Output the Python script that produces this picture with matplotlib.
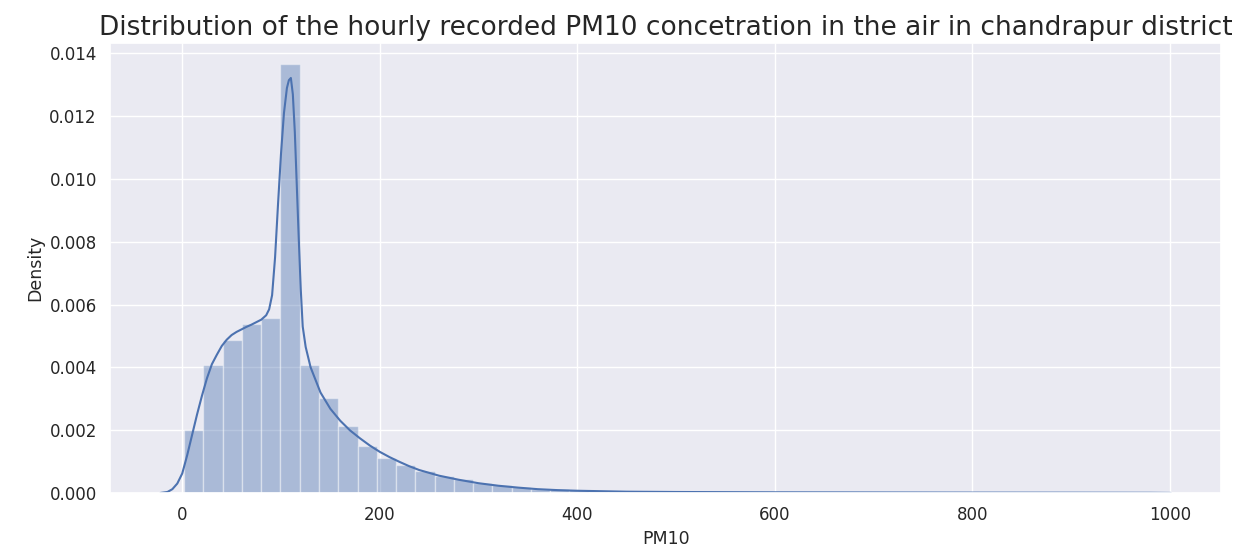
import numpy as np
import matplotlib
matplotlib.use("Agg")
import matplotlib.pyplot as plt
import seaborn as sns

# histogram (density per bin)
bin_start = 2.0
bin_width = 19.5
bar_density = [
    0.00200, 0.00407, 0.00486, 0.00537, 0.00556, 0.01365, 0.00406, 0.00303,
    0.00213, 0.00151, 0.00110, 0.00089, 0.00071, 0.00054, 0.00043, 0.00033,
    0.00025, 0.00019, 0.00014, 0.00011, 0.00008, 0.00007, 0.00006, 0.00005,
    0.00004, 0.00004, 0.00003, 0.00003, 0.00003, 0.00002, 0.00002, 0.00002,
    0.00002, 0.00002, 0.00002, 0.00002, 0.00002, 0.00002, 0.00002, 0.00002,
    0.00001, 0.00001, 0.00001, 0.00001, 0.00001, 0.00001, 0.00001, 0.00001,
    0.00001, 0.00001,
]

# kde curve
kde_x = [-22, -15, -10, -5, 0, 5, 10, 15, 20, 25, 30, 35, 40, 45, 50, 55, 60,
         65, 70, 75, 80, 85, 88, 91, 94, 97, 100, 103, 106, 108, 110, 112, 114,
         116, 118, 120, 122, 125, 130, 135, 140, 150, 160, 170, 180, 190, 200,
         210, 220, 230, 240, 260, 280, 300, 320, 340, 360, 380, 400, 450, 500,
         600, 700, 800, 900, 980, 1001]
kde_y = [0.0, 0.00003, 0.00012, 0.0003, 0.00062, 0.0012, 0.00185, 0.0025,
         0.0031, 0.00365, 0.0041, 0.0044, 0.00468, 0.00488, 0.00503, 0.00513,
         0.00521, 0.00529, 0.00536, 0.00544, 0.00552, 0.00566, 0.00585, 0.0063,
         0.0075, 0.0092, 0.0108, 0.0121, 0.0129, 0.01315, 0.01322, 0.0127,
         0.0115, 0.0098, 0.0081, 0.0065, 0.0053, 0.00465, 0.0040, 0.0036,
         0.0032, 0.00268, 0.0023, 0.00199, 0.00174, 0.00151, 0.00131, 0.00114,
         0.00099, 0.00085, 0.00073, 0.00055, 0.00042, 0.00031, 0.00023,
         0.00017, 0.00012, 0.00009, 0.00007, 0.00004, 0.00003, 0.00002,
         0.000015, 0.00001, 0.000008, 0.000005, 0.0]

sns.set_theme(style="darkgrid")
plt.rcParams['font.family'] = ['DejaVu Sans']

fig = plt.figure(figsize=(12.5, 5.52), dpi=100)
ax = fig.add_axes([0.088, 0.107, 0.889, 0.815])

edges = bin_start + bin_width * np.arange(len(bar_density))
ax.bar(edges, bar_density, width=bin_width, align='edge',
       color='#4c72b0', alpha=0.4, edgecolor='white', linewidth=1)
ax.plot(kde_x, kde_y, color='#4c72b0', lw=1.5)

ax.set_xticks([0, 200, 400, 600, 800, 1000])
ax.tick_params(labelsize=12)
ax.set_xlabel('PM10', fontsize=12.5)
ax.set_ylabel('Density', fontsize=12.5)
ax.set_title('Distribution of the hourly recorded PM10 concetration in the air in chandrapur district',
             fontsize=19)

fig.savefig('out.png', dpi=100)
